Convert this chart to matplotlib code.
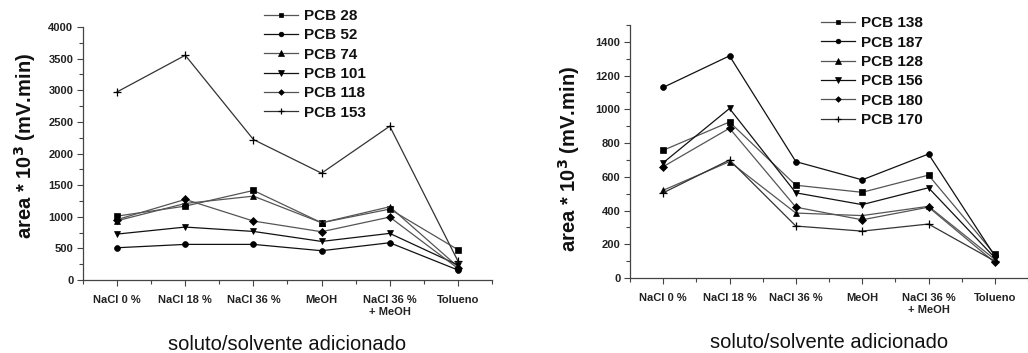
import matplotlib
matplotlib.use("Agg")
import matplotlib.pyplot as plt
from matplotlib.ticker import MultipleLocator

plt.rcParams['font.family'] = ['Liberation Sans', 'DejaVu Sans']

categories = ["NaCl 0 %", "NaCl 18 %", "NaCl 36 %", "MeOH", "NaCl 36 %\n+ MeOH", "Tolueno"]

# Left panel
pcb28 = [1010, 1168, 1416, 905, 1121, 479]
pcb52 = [510, 563, 563, 463, 589, 158]
pcb74 = [937, 1210, 1326, 905, 1158, 210]
pcb101 = [726, 837, 768, 610, 737, 237]
pcb118 = [955, 1274, 932, 763, 995, 184]
pcb153 = [2974, 3553, 2221, 1689, 2432, 300]

# Right panel
pcb138 = [757, 925, 550, 508, 610, 140]
pcb187 = [1130, 1317, 690, 582, 735, 130]
pcb128 = [520, 690, 385, 370, 425, 110]
pcb156 = [683, 1005, 505, 435, 535, 120]
pcb180 = [660, 888, 420, 345, 420, 92]
pcb170 = [505, 700, 308, 278, 320, 100]

left_series = [("PCB 28", pcb28, 's', '#555555'),
               ("PCB 52", pcb52, 'o', '#111111'),
               ("PCB 74", pcb74, '^', '#555555'),
               ("PCB 101", pcb101, 'v', '#111111'),
               ("PCB 118", pcb118, 'D', '#555555'),
               ("PCB 153", pcb153, '+', '#333333')]
right_series = [("PCB 138", pcb138, 's', '#555555'),
                ("PCB 187", pcb187, 'o', '#111111'),
                ("PCB 128", pcb128, '^', '#555555'),
                ("PCB 156", pcb156, 'v', '#111111'),
                ("PCB 180", pcb180, 'D', '#555555'),
                ("PCB 170", pcb170, '+', '#333333')]

fig = plt.figure(figsize=(10.28, 3.53), dpi=100)
W, H = 1028, 353
axL = fig.add_axes([83 / W, 1 - 280 / H, (492 - 83) / W, (280 - 27) / H])
axR = fig.add_axes([630 / W, 1 - 278 / H, (1028 - 630) / W, (278 - 25) / H])

x = list(range(len(categories)))
msizes = {'s': 3.8, 'o': 4.2, '^': 4.8, 'v': 4.8, 'D': 3.6, '+': 6}

def style(ax, series, ymax, major, minor, xmax, legend_anchor, ylab_xy):
    for name, vals, m, c in series:
        ax.plot(x, vals, color=c, lw=0.9, marker=m, markersize=msizes[m],
                markerfacecolor='black', markeredgecolor='black',
                markeredgewidth=0.9 if m == '+' else 0.5, label=name)
    ax.set_xlim(-0.5, xmax)
    ax.set_ylim(0, ymax)
    ax.set_xticks(x)
    ax.set_xticklabels(categories, fontsize=8, fontweight='bold', color='#222222')
    ax.set_xticks([i + 0.5 for i in range(-1, 6)], minor=True)
    ax.yaxis.set_major_locator(MultipleLocator(major))
    ax.yaxis.set_minor_locator(MultipleLocator(minor))
    for lab in ax.get_yticklabels():
        lab.set_fontsize(8)
        lab.set_fontweight('bold')
        lab.set_color('#222222')
    ax.tick_params(axis='both', which='major', direction='out', length=4, width=0.8, color='#444444')
    ax.tick_params(axis='both', which='minor', direction='out', length=3, width=0.8, color='#444444')
    ax.tick_params(axis='x', which='major', pad=7)
    ax.tick_params(axis='y', which='major', pad=3)
    for s in ('top', 'right'):
        ax.spines[s].set_visible(False)
    for s in ('left', 'bottom'):
        ax.spines[s].set_color('#444444')
        ax.spines[s].set_linewidth(0.9)
    ax.set_ylabel("area * 10$^\\mathbf{3}$ (mV.min)", fontsize=14.5, fontweight='bold', color='#111111')
    ax.yaxis.set_label_coords(*ylab_xy)
    ax.set_xlabel("soluto/solvente adicionado", fontsize=14.5, color='#111111', labelpad=13)
    leg = ax.legend(loc='upper left', bbox_to_anchor=legend_anchor, frameon=False,
                    prop={'size': 11, 'weight': 'bold'}, handlelength=2.2,
                    handletextpad=0.4, labelspacing=0.35, borderaxespad=0,
                    markerscale=0.8)
    for t in leg.get_texts():
        t.set_color('#111111')

style(axL, left_series, 4000, 500, 250, 5.5, (0.428, 1.095), (-0.11, 0.53))
style(axR, right_series, 1500, 200, 100, 5.37, (0.465, 1.058), (-0.12, 0.47))

fig.savefig("out.png", dpi=100)
